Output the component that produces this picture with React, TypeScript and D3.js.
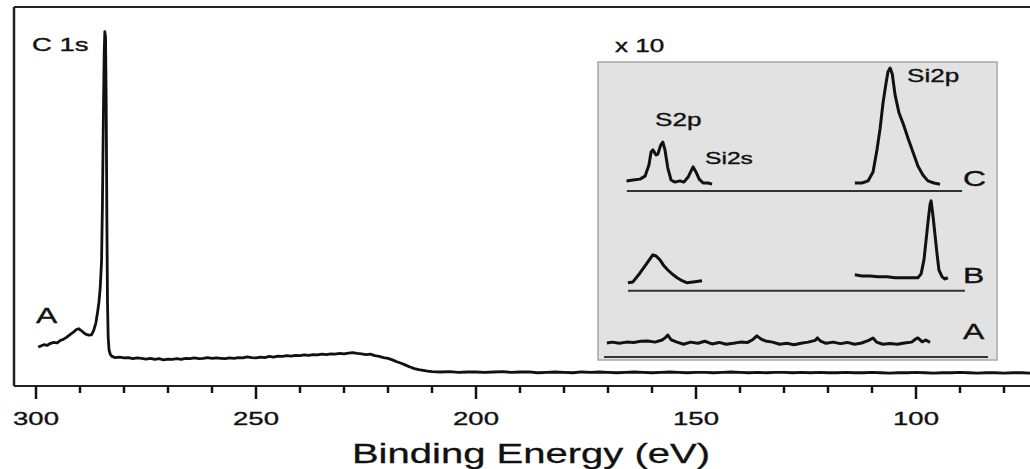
import { line, range, scaleLinear } from "d3";

// main survey spectrum, [binding energy eV, intensity a.u.]
const mainSpectrum: [number, number][] = [
  [299.5, 10.3], [298.8, 10.6], [298.2, 10.9], [297.5, 10.7], [296.8, 11.2], [296.0, 11.5],
  [295.2, 11.4], [294.5, 12.0], [293.8, 12.3], [293.0, 12.9], [292.2, 13.6], [291.5, 14.2],
  [290.8, 14.9], [290.3, 15.1], [289.8, 14.7], [289.2, 14.1], [288.6, 13.6], [288.0, 13.4],
  [287.4, 13.5], [286.9, 14.6], [286.4, 16.6], [286.0, 19.5], [285.7, 22.0], [285.4, 26.0],
  [285.1, 33.0], [284.9, 48.0], [284.7, 70.0], [284.5, 88.0], [284.35, 93.5], [284.2, 92.0],
  [284.05, 75.0], [283.9, 45.0], [283.75, 22.0], [283.6, 13.0], [283.4, 9.5], [283.1, 8.3],
  [282.7, 7.8], [282.0, 7.5], [281.0, 7.6], [280.0, 7.4], [279.0, 7.5], [278.0, 7.2],
  [277.0, 7.4], [276.0, 7.3], [275.0, 7.1], [274.0, 7.3], [273.0, 7.0], [272.0, 7.2],
  [271.0, 6.9], [270.0, 7.1], [269.0, 7.0], [268.0, 7.2], [267.0, 7.0], [266.0, 7.3],
  [265.0, 7.2], [264.0, 7.4], [263.0, 7.2], [262.0, 7.3], [261.0, 7.5], [260.0, 7.3],
  [259.0, 7.4], [258.0, 7.3], [257.0, 7.2], [256.0, 7.4], [255.0, 7.3], [254.0, 7.5],
  [253.0, 7.4], [252.0, 7.7], [251.0, 7.5], [250.0, 7.4], [249.0, 7.6], [248.0, 7.5],
  [247.0, 7.8], [246.0, 7.6], [245.0, 7.9], [244.0, 7.8], [243.0, 8.0], [242.0, 7.9],
  [241.0, 8.1], [240.0, 8.0], [239.0, 8.2], [238.0, 8.1], [237.0, 8.3], [236.0, 8.2],
  [235.0, 8.4], [234.0, 8.3], [233.0, 8.5], [232.0, 8.4], [231.0, 8.6], [230.0, 8.5],
  [229.0, 8.7], [228.0, 8.8], [227.0, 8.6], [226.0, 8.5], [225.0, 8.3], [224.0, 8.4],
  [223.0, 8.0], [222.0, 7.8], [221.0, 7.5], [220.0, 7.3], [219.0, 6.9], [218.0, 6.4],
  [217.0, 6.0], [216.0, 5.5], [215.0, 5.0], [214.0, 4.6], [213.0, 4.3], [212.0, 4.1],
  [211.0, 3.9], [210.0, 3.8], [208, 3.7], [206, 3.8], [204, 3.6], [202, 3.7], [200, 3.7],
  [198, 3.6], [196, 3.7], [194, 3.8], [192, 3.6], [190, 3.7], [188, 3.7], [186, 3.5],
  [184, 3.6], [182, 3.7], [180, 3.6], [178, 3.5], [176, 3.7], [174, 3.6], [172, 3.7],
  [170, 3.6], [168, 3.5], [166, 3.6], [164, 3.7], [162, 3.6], [160, 3.5], [158, 3.6],
  [156, 3.7], [154, 3.6], [152, 3.5], [150, 3.6], [148, 3.6], [146, 3.5], [144, 3.6],
  [142, 3.7], [140, 3.6], [138, 3.5], [136, 3.6], [134, 3.5], [132, 3.6], [130, 3.6],
  [128, 3.5], [126, 3.6], [124, 3.5], [122, 3.6], [120, 3.5], [118, 3.5], [116, 3.6],
  [114, 3.5], [112, 3.5], [110, 3.6], [108, 3.5], [106, 3.4], [104, 3.5], [102, 3.5],
  [100, 3.6], [98, 3.5], [96, 3.4], [94, 3.5], [92, 3.5], [90, 3.6], [88, 3.5], [86, 3.4],
  [84, 3.5], [82, 3.5], [80, 3.4], [78, 3.5], [76, 3.5], [74, 3.4], [72, 3.5],
];

// inset (x10) traces, intensity relative to each trace's own baseline
const insetCLeft: [number, number][] = [
  [174.0, 3.4], [172.2, 3.7], [170.2, 4.0], [168.8, 5.0], [167.7, 8.7], [167.1, 13.1],
  [166.6, 13.8], [165.7, 12.1], [165.2, 12.4], [164.4, 15.4], [163.8, 16.4], [163.2, 13.8],
  [162.4, 7.7], [161.5, 3.7], [160.4, 3.0], [159.0, 3.4], [157.9, 3.0], [156.7, 4.7],
  [155.9, 6.7], [155.3, 8.1], [154.5, 6.4], [153.6, 4.0], [152.5, 2.7], [151.1, 2.7], [150.0, 2.3],
];
const insetCRight: [number, number][] = [
  [109.9, 2.7], [107.9, 2.7], [106.2, 3.4], [104.8, 6.4], [103.7, 13.8], [102.8, 21.1],
  [102.0, 29.5], [101.1, 36.6], [100.6, 40.0], [100.0, 41.3], [99.4, 39.3], [98.6, 32.2],
  [97.5, 26.2], [96.4, 22.8], [95.0, 17.8], [93.6, 13.1], [92.2, 8.4], [90.8, 5.4],
  [89.4, 3.4], [87.7, 2.7], [86.0, 2.3],
];
const insetBLeft: [number, number][] = [
  [173.6, 2.7], [172.2, 3.0], [170.2, 6.0], [168.2, 9.4], [166.6, 12.1], [165.7, 11.7],
  [164.6, 10.4], [163.5, 8.4], [162.4, 7.0], [160.9, 5.4], [159.8, 4.4], [158.4, 3.4],
  [157.0, 2.7], [155.3, 3.0], [152.8, 3.4],
];
const insetBRight: [number, number][] = [
  [109.9, 5.4], [107.9, 5.0], [105.6, 5.0], [103.4, 4.7], [100.9, 4.7], [98.6, 4.4],
  [96.4, 4.4], [94.1, 4.4], [92.2, 4.4], [91.3, 5.7], [90.5, 10.4], [89.9, 17.1],
  [89.3, 23.8], [88.8, 28.9], [88.5, 30.2], [88.0, 25.5], [87.4, 18.8], [86.8, 12.1],
  [86.3, 7.0], [85.4, 4.7], [84.6, 4.0], [83.8, 4.4],
];
const insetA: [number, number][] = [
  [179.5, 4.7], [178, 5.0], [176, 4.6], [174, 5.0], [172, 4.9], [170, 5.3], [168, 5.4],
  [166, 5.0], [164, 5.7], [163, 6.6], [162.4, 7.4], [161.5, 5.8], [160, 5.1], [158, 4.3],
  [156, 5.0], [154, 4.6], [152, 5.3], [150, 4.4], [148, 4.9], [146, 4.3], [144, 4.6],
  [142, 5.0], [140, 4.9], [138.5, 5.9], [137.4, 7.1], [136.2, 6.0], [135, 5.4], [133, 5.0],
  [131, 4.3], [129, 4.6], [127, 4.1], [125, 4.6], [123, 5.0], [121, 5.6], [120.4, 6.4],
  [119.5, 5.3], [118, 4.6], [116, 5.0], [114, 4.5], [112, 4.9], [110, 4.3], [108, 4.7],
  [106, 5.6], [104.8, 6.4], [103.8, 5.0], [102, 4.3], [100, 4.5], [98, 4.3], [96, 4.7],
  [94, 5.0], [93, 5.9], [92.2, 6.4], [91, 5.1], [90, 5.7], [88.8, 4.9],
];

// vertical offset of each inset trace and the energy span of its baseline
const insetOffsets = { A: 1.0, B: 23.2, C: 56.7 };
const insetBaselines = { A: [180.3, 72.5], B: [173.6, 79.0], C: [173.9, 79.8] };

const majorTicks = [300, 250, 200, 150, 100];
const xTitle = "Binding Energy (eV)";

const W = 1030;
const H = 469;
const FRAME = { left: 14, top: 7, right: 1030, bottom: 386 };
const INSET = { left: 598, top: 62, right: 997, bottom: 360 };
const SX = 1.45; // the original figure is stretched horizontally
const FONT = "'Liberation Sans', Arial, sans-serif";
const INK = "#111";

function Label({ x, y, size, anchor = "start", children }: any) {
  return (
    <text
      transform={`translate(${x},${y}) scale(${SX},1)`}
      fontSize={size}
      textAnchor={anchor}
      fontFamily={FONT}
      fill={INK}
      stroke={INK}
      strokeWidth={0.35}
    >
      {children}
    </text>
  );
}

export default function App() {
  const xScale = scaleLinear().domain([305, 70]).range([FRAME.left, FRAME.left + 235 * 4.4]);
  const yScale = scaleLinear().domain([0, 100]).range([FRAME.bottom, FRAME.top]);

  const ix = scaleLinear().domain([182, 70]).range([INSET.left, INSET.right]);
  const iy = scaleLinear().domain([0, 100]).range([INSET.bottom, INSET.top]);

  const mainPath = line<[number, number]>()
    .x((d) => xScale(d[0]))
    .y((d) => yScale(d[1]));

  const insetPath = (offset: number) =>
    line<[number, number]>()
      .x((d) => ix(d[0]))
      .y((d) => iy(d[1] + offset));

  const minorTicks = range(300, 69, -10).filter((v) => !majorTicks.includes(v));

  const traces: [[number, number][], number][] = [
    [insetCLeft, insetOffsets.C],
    [insetCRight, insetOffsets.C],
    [insetBLeft, insetOffsets.B],
    [insetBRight, insetOffsets.B],
    [insetA, insetOffsets.A],
  ];

  return (
    <div style={{ position: "absolute", left: 0, top: 0, width: W, height: H, background: "#fff" }}>
      <svg width={W} height={H} viewBox={`0 0 ${W} ${H}`}>
        <defs>
          <clipPath id="plot">
            <rect x={FRAME.left} y={0} width={FRAME.right - FRAME.left} height={FRAME.bottom} />
          </clipPath>
        </defs>
        <rect width={W} height={H} fill="#fff" />

        {/* frame */}
        <line x1={FRAME.left} x2={FRAME.right} y1={FRAME.top} y2={FRAME.top} stroke="#222" strokeWidth={2} />
        <line x1={FRAME.left} x2={FRAME.left} y1={FRAME.top} y2={FRAME.bottom} stroke="#222" strokeWidth={2.5} />
        <line x1={FRAME.left} x2={FRAME.right} y1={FRAME.bottom} y2={FRAME.bottom} stroke="#222" strokeWidth={2} />

        {/* ticks */}
        {majorTicks.map((t) => (
          <g key={t}>
            <line x1={xScale(t)} x2={xScale(t)} y1={FRAME.bottom} y2={FRAME.bottom + 13} stroke={INK} strokeWidth={2.5} />
            <Label x={xScale(t)} y={425} size={19} anchor="middle">{t}</Label>
          </g>
        ))}
        {minorTicks.map((t) => (
          <line key={t} x1={xScale(t)} x2={xScale(t)} y1={FRAME.bottom} y2={FRAME.bottom + 7} stroke={INK} strokeWidth={2.5} />
        ))}
        <text
          transform={`translate(531,463) scale(1.43,1)`}
          fontSize={28}
          textAnchor="middle"
          fontFamily={FONT}
          fill={INK}
          stroke={INK}
          strokeWidth={0.3}
        >
          {xTitle}
        </text>

        {/* main spectrum */}
        <g clipPath="url(#plot)">
          <path d={mainPath(mainSpectrum) ?? ""} fill="none" stroke={INK} strokeWidth={2.8} strokeLinejoin="round" />
        </g>
        <Label x={32} y={51} size={19}>C 1s</Label>
        <Label x={36} y={323} size={22}>A</Label>

        {/* inset */}
        <Label x={615} y={52} size={18}>x 10</Label>
        <rect
          x={INSET.left}
          y={INSET.top}
          width={INSET.right - INSET.left}
          height={INSET.bottom - INSET.top}
          fill="#e2e2e2"
          stroke="#a8a8a8"
          strokeWidth={1.5}
        />
        {(["A", "B", "C"] as const).map((k) => (
          <line
            key={k}
            x1={ix(insetBaselines[k][0])}
            x2={ix(insetBaselines[k][1])}
            y1={iy(insetOffsets[k])}
            y2={iy(insetOffsets[k])}
            stroke="#333"
            strokeWidth={2}
          />
        ))}
        {traces.map(([data, off], i) => (
          <path
            key={i}
            d={insetPath(off)(data) ?? ""}
            fill="none"
            stroke={INK}
            strokeWidth={3}
            strokeLinejoin="round"
          />
        ))}
        <Label x={963} y={186} size={22}>C</Label>
        <Label x={963} y={283} size={22}>B</Label>
        <Label x={963} y={339} size={22}>A</Label>
        <Label x={655} y={126} size={18}>S2p</Label>
        <Label x={705} y={164} size={17}>Si2s</Label>
        <Label x={907} y={82} size={18}>Si2p</Label>
      </svg>
    </div>
  );
}
